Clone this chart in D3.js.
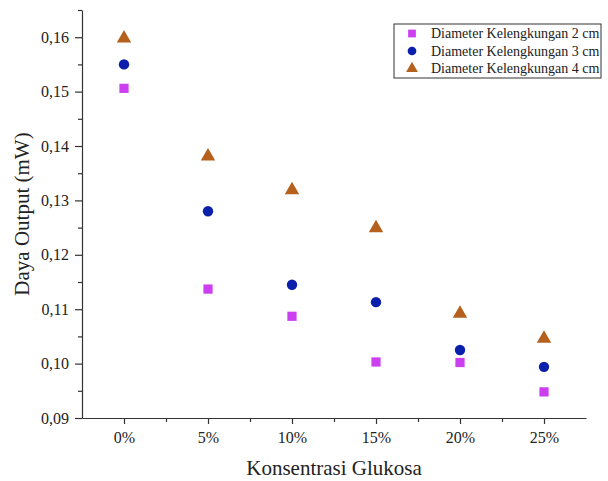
<!DOCTYPE html>
<html>
<head>
<meta charset="utf-8">
<script src="https://cdn.jsdelivr.net/npm/d3@7"></script>
<style>
  body { margin: 0; background: #fff; }
  svg { display: block; }
  text { font-family: "Liberation Serif", "Times New Roman", serif; fill: #222; }
</style>
</head>
<body>
<div id="wrapper"></div>
<script>
// data
const categories = ['0%', '5%', '10%', '15%', '20%', '25%']
const seriesNames = ['Diameter Kelengkungan 2 cm', 'Diameter Kelengkungan 3 cm', 'Diameter Kelengkungan 4 cm']
const d2cm = [0.1506, 0.1137, 0.1087, 0.1003, 0.1002, 0.0948]
const d3cm = [0.1550, 0.1280, 0.1145, 0.1113, 0.1025, 0.0994]
const d4cm = [0.1598, 0.1381, 0.1319, 0.1249, 0.1092, 0.1046]
const yTicks = [0.09, 0.10, 0.11, 0.12, 0.13, 0.14, 0.15, 0.16]

function drawChart() {
    const width = 608, height = 481
    const margin = { top: 10, right: 22, bottom: 63, left: 82 }

    const svg = d3.select('#wrapper').append('svg')
        .attr('width', width)
        .attr('height', height)

    const bounds = svg.append('g')

    const x = d3.scaleLinear()
        .domain([-0.5, categories.length - 0.5])
        .range([margin.left, width - margin.right])

    const y = d3.scaleLinear()
        .domain([0.09, 0.165])
        .range([height - margin.bottom, margin.top])

    const fmt = d => d3.format('.2f')(d).replace('.', ',')

    // minor ticks
    const xMinor = d3.range(0, categories.length - 1).map(i => i + 0.5)
    const yMinor = d3.range(0, 8).map(i => 0.095 + i * 0.01)

    bounds.append('g')
        .attr('transform', `translate(0,${y(0.09)})`)
        .call(d3.axisBottom(x).tickValues(xMinor).tickSize(4).tickFormat(''))
        .call(g => g.select('.domain').remove())
    bounds.append('g')
        .attr('transform', `translate(${x(-0.5)},0)`)
        .call(d3.axisLeft(y).tickValues(yMinor).tickSize(4).tickFormat(''))
        .call(g => g.select('.domain').remove())

    const xAxis = bounds.append('g')
        .attr('transform', `translate(0,${y(0.09)})`)
        .call(d3.axisBottom(x)
            .tickValues(d3.range(categories.length))
            .tickFormat(i => categories[i])
            .tickSize(6).tickSizeOuter(0))
    xAxis.selectAll('text').attr('y', 25).attr('dy', 0).style('font-size', '16px')

    const yAxis = bounds.append('g')
        .attr('transform', `translate(${x(-0.5)},0)`)
        .call(d3.axisLeft(y).tickValues(yTicks).tickFormat(fmt)
            .tickSize(7).tickPadding(6).tickSizeOuter(0))
    yAxis.selectAll('text').style('font-size', '16px')

    svg.selectAll('.domain, .tick line').attr('stroke', '#333').attr('stroke-width', 1.2)
    svg.selectAll('.tick text').attr('fill', '#222').style('font-family', '"Liberation Serif", serif')

    // axis titles
    svg.append('text')
        .attr('x', x(2.5))
        .attr('y', 475)
        .attr('text-anchor', 'middle')
        .style('font-size', '21px')
        .text('Konsentrasi Glukosa')

    svg.append('text')
        .attr('transform', `translate(29,${(y(0.09) + y(0.165)) / 2}) rotate(-90)`)
        .attr('text-anchor', 'middle')
        .style('font-size', '21px')
        .text('Daya Output (mW)')

    // marks
    const styles = [
        { values: d2cm, color: '#cc3ff0', symbol: d3.symbolSquare, size: 85 },
        { values: d3cm, color: '#0a20ac', symbol: d3.symbolCircle, size: 85 },
        { values: d4cm, color: '#b5601d', symbol: d3.symbolTriangle, size: 90 }
    ]

    styles.forEach(s => {
        bounds.selectAll(null)
            .data(s.values)
            .enter().append('path')
            .attr('d', d3.symbol(s.symbol, s.size))
            .attr('transform', (d, i) => `translate(${x(i)},${y(d)})`)
            .attr('fill', s.color)
    })

    // legend
    const legend = svg.append('g').attr('transform', 'translate(394,24)')
    legend.append('rect')
        .attr('width', 207).attr('height', 54)
        .attr('fill', '#fff').attr('stroke', '#333').attr('stroke-width', 1)

    seriesNames.forEach((name, i) => {
        const row = legend.append('g').attr('transform', `translate(0,${9.5 + i * 17.5})`)
        row.append('path')
            .attr('d', d3.symbol(styles[i].symbol, 60))
            .attr('transform', 'translate(18,0)')
            .attr('fill', styles[i].color)
        row.append('text')
            .attr('x', 37).attr('y', 4.5)
            .style('font-size', '14px')
            .text(name)
    })
}

drawChart()
</script>
</body>
</html>
